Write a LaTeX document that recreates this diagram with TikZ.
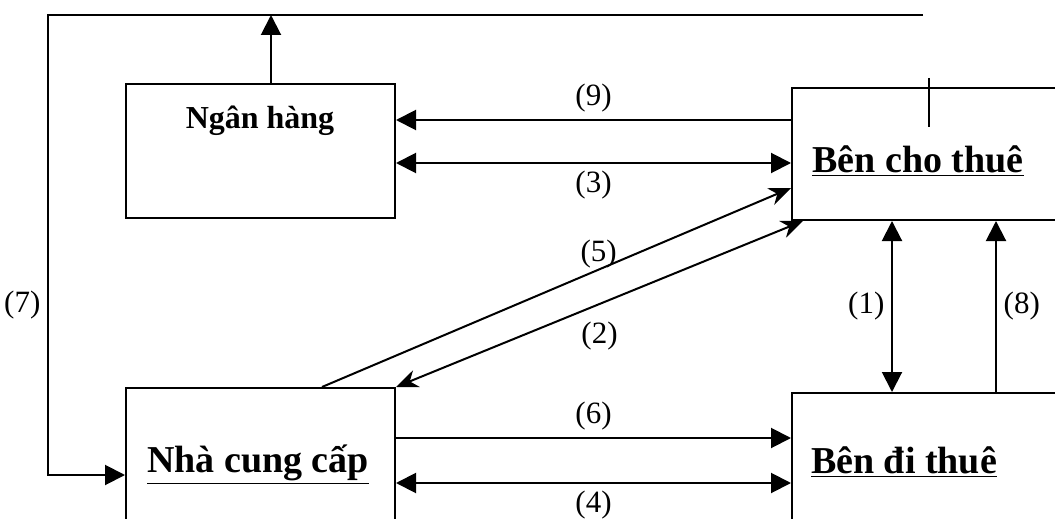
\documentclass[tikz,border=0pt]{standalone}
\usepackage{fontspec}
\setmainfont{Liberation Serif}
\usetikzlibrary{arrows.meta}

\begin{document}
\begin{tikzpicture}[x=0.5pt, y=-0.5pt,
    block/.style={draw, rectangle, line width=1pt, inner sep=0pt},
    boxname/.style={font=\fontsize{19}{22}\selectfont\bfseries, anchor=base},
    lbl/.style={font=\fontsize{15.5}{18}\selectfont},
    arr/.style={line width=1pt, -{Triangle[length=10pt,width=10pt]}},
    biarr/.style={line width=1pt, {Triangle[length=10pt,width=10pt]}-{Triangle[length=10pt,width=10pt]}},
    sarr/.style={line width=1pt, -{Stealth[length=11pt,width=9pt]}},
    sbiarr/.style={line width=1pt, {Stealth[length=11pt,width=9pt]}-{Stealth[length=11pt,width=9pt]}}]

    \clip (0,0) rectangle (1055,519);

    \node[block, minimum width=134.5pt, minimum height=67pt] (bank) at (260.5,151) {};
    \node[block, minimum width=144pt, minimum height=66pt] (lessor) at (936,154) {};
    \node[block, minimum width=134.5pt, minimum height=71pt] (supplier) at (260.5,459) {};
    \node[block, minimum width=144pt, minimum height=68.5pt] (lessee) at (936,461.5) {};

    \node[boxname, font=\fontsize{16}{19}\selectfont\bfseries] (bankName) at (260,128) {Ngân hàng};
    \node[boxname] (lessorName) at (918,172) {\underline{Bên cho thuê}};
    \node[boxname] (supplierName) at (258,472) {\underline{Nhà cung cấp}};
    \node[boxname] (lesseeName) at (904,473) {\underline{Bên đi thuê}};

    \coordinate (y9) at (0,120);
    \coordinate (y3) at (0,163);
    \coordinate (y5) at (0,188);
    \coordinate (y6) at (0,438);
    \coordinate (y4) at (0,483);
    \coordinate (x5) at (322,0);
    \coordinate (x2) at (803,0);
    \coordinate (x1) at (892,0);
    \coordinate (x8) at (996,0);
    \coordinate (topL) at (48,15);
    \coordinate (topR) at (923,15);
    \coordinate (botL) at (48,475);
    \coordinate (bankUp) at (271,15);
    \coordinate (tickTop) at (929,78);
    \coordinate (tickBot) at (929,127);

    \path [arr] (lessor.west |- y9) edge node[lbl, above] {(9)} (bank.east |- y9);
    \path [biarr] (bank.east |- y3) edge node[lbl, below] {(3)} (lessor.west |- y3);

    \path [sarr] (supplier.north -| x5) edge node[lbl, above, pos=0.59, yshift=-3pt] {(5)} (lessor.west |- y5);
    \path [sbiarr] (supplier.north east) edge node[lbl, below, pos=0.5, yshift=-5pt] {(2)} (lessor.south -| x2);

    \path [biarr] (lessor.south -| x1) edge node[lbl, left] {(1)} (lessee.north -| x1);
    \path [arr] (lessee.north -| x8) edge node[lbl, right] {(8)} (lessor.south -| x8);

    \path [arr] (supplier.east |- y6) edge node[lbl, above] {(6)} (lessee.west |- y6);
    \path [biarr] (supplier.east |- y4) edge node[lbl, below] {(4)} (lessee.west |- y4);

    \path [arr] (bank.north -| bankUp) edge (bankUp);
    \draw [arr] (topR) -- (topL) -- node[lbl, left, pos=0.63] {(7)} (botL) -- (supplier.west |- botL);
    \draw [line width=1pt] (tickTop) -- (tickBot);

    \end{tikzpicture}
\end{document}
